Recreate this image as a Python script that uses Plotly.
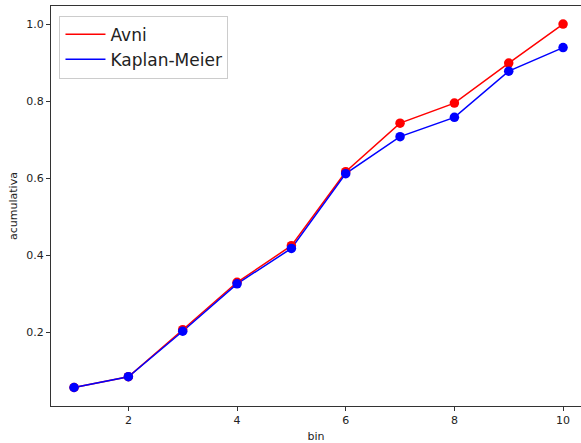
import plotly.graph_objects as go

bins = [1, 2, 3, 4, 5, 6, 7, 8, 9, 10]
avni = [0.057, 0.085, 0.207, 0.330, 0.425, 0.617, 0.743, 0.795, 0.899, 1.000]
kaplan_meier = [0.057, 0.085, 0.203, 0.326, 0.418, 0.612, 0.708, 0.758, 0.878, 0.939]
x_ticks = [2, 4, 6, 8, 10]
y_ticks = [0.2, 0.4, 0.6, 0.8, 1.0]

fig = go.Figure()
for name, vals, col in [("Avni", avni, "#ff0000"), ("Kaplan-Meier", kaplan_meier, "#0000ff")]:
    fig.add_trace(go.Scatter(x=bins, y=vals, mode="lines", name=name,
                             line=dict(color=col, width=1.5)))
for name, vals, col in [("Avni", avni, "#ff0000"), ("Kaplan-Meier", kaplan_meier, "#0000ff")]:
    fig.add_trace(go.Scatter(x=bins, y=vals, mode="markers", showlegend=False,
                             marker=dict(color=col, size=9.5, line=dict(width=0))))

axis_common = dict(showgrid=False, zeroline=False, showline=True, linecolor="#333",
                   linewidth=1, ticks="outside", ticklen=4, tickcolor="#333",
                   tickfont=dict(family="DejaVu Sans", size=11, color="#222"))
fig.update_layout(
    width=581, height=443,
    margin=dict(l=51, r=0, t=6, b=37),
    paper_bgcolor="white", plot_bgcolor="white",
    font=dict(family="DejaVu Sans", color="#222"),
    xaxis=dict(range=[0.576, 10.33], tickvals=x_ticks, mirror=True,
               title=dict(text="bin", font=dict(size=11), standoff=6), **axis_common),
    yaxis=dict(range=[0.009, 1.047], tickvals=y_ticks, tickformat=".1f",
               title=dict(text="acumulativa", font=dict(size=11), standoff=6), **axis_common),
    legend=dict(x=0.016, y=0.976, xanchor="left", yanchor="top",
                bordercolor="#cccccc", borderwidth=1, bgcolor="rgba(255,255,255,0.8)",
                font=dict(family="DejaVu Sans", size=17, color="#222"),
                itemwidth=40, tracegroupgap=0),
)
fig.write_html("out.html")
